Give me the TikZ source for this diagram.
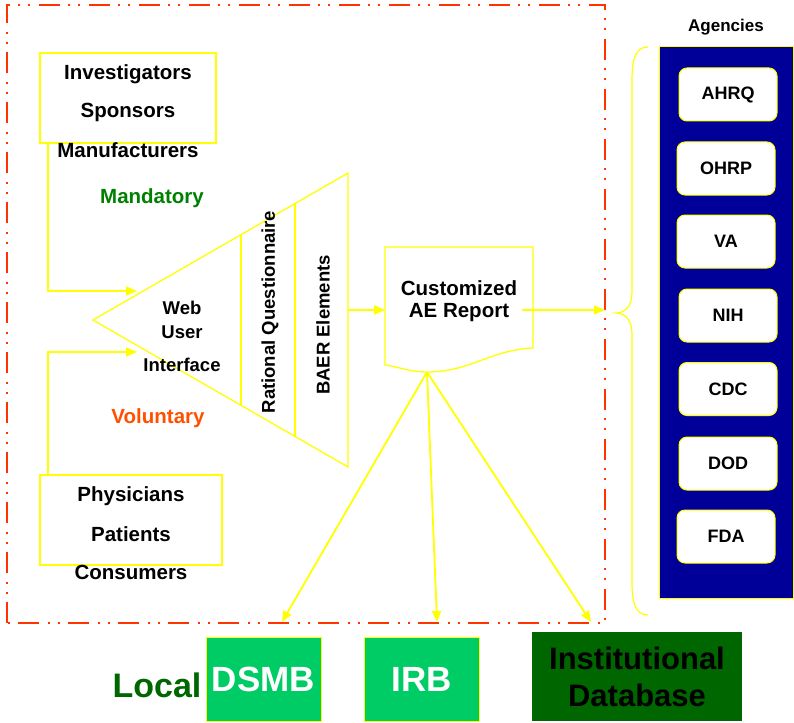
\documentclass[tikz,border=0pt]{standalone}
\usepackage{fontspec}
\setmainfont{Liberation Sans}
\usetikzlibrary{arrows.meta}
\definecolor{frame}{RGB}{255,51,0}
\definecolor{yel}{RGB}{255,255,0}
\definecolor{navy}{RGB}{0,0,153}
\definecolor{mand}{RGB}{0,128,0}
\definecolor{volu}{RGB}{255,80,0}
\definecolor{brightg}{RGB}{0,204,102}
\definecolor{darkg}{RGB}{0,102,0}
\tikzset{
  conn/.style={draw=yel, line width=1.8pt, -{Triangle[length=11pt,width=9pt]}},
  yline/.style={draw=yel, line width=1.3pt},
  lab/.style={font=\fontsize{20.5}{24}\selectfont\bfseries, inner sep=0pt},
  inlab/.style={font=\fontsize{18.5}{22}\selectfont\bfseries, inner sep=0pt},
  srcbox/.style={draw=yel, line width=1.2pt, inner sep=0pt},
  agency/.style={draw=yel, line width=1pt, fill=white, rounded corners=8pt,
    minimum width=98pt, minimum height=53pt, font=\fontsize{18}{22}\selectfont\bfseries, inner sep=0pt},
  localbox/.style={draw=yel, line width=1pt, inner sep=0pt, font=\fontsize{35}{40}\selectfont\bfseries},
}
\begin{document}
\begin{tikzpicture}[x=1pt,y=-1pt]
\useasboundingbox (0,0) rectangle (794,722);
% red frame
\draw[frame, line width=2.5pt, dash pattern=on 21pt off 8pt on 2pt off 8pt on 2pt off 9pt]
  (7,623) -- (7,5) -- (605,5) -- (605,623) -- cycle;
% source boxes
\node[srcbox, minimum width=176pt, minimum height=90pt] (topbox) at (128,98) {};
\node[lab] (inv) at (128,74) {Investigators};
\node[lab] (spo) at (128,112) {Sponsors};
\node[lab] (man) at (128,150) {Manufacturers};
\node[lab, text=mand] (mandl) at (152,198) {Mandatory};
\node[srcbox, minimum width=182pt, minimum height=90pt] (botbox) at (131,520) {};
\node[lab] (phy) at (131,496) {Physicians};
\node[lab] (pat) at (131,534) {Patients};
\node[lab] (con) at (131,572) {Consumers};
\node[lab, text=volu] (volul) at (158,418) {Voluntary};
% triangle
\coordinate (tip) at (93,320);
\coordinate (trt) at (348,173);
\coordinate (trb) at (348,467);
\draw[yline] (tip) -- (trt) -- (trb) -- cycle;
\draw[yline] (241,234.7) -- (241,405.3);
\draw[yline] (295,203.6) -- (295,436.4);
\node[inlab] (web) at (182,308) {Web};
\node[inlab] (user) at (182,332) {User};
\node[inlab] (intf) at (182,365) {Interface};
\node[inlab, rotate=90] (rq) at (270,312) {Rational Questionnaire};
\node[inlab, rotate=90] (baer) at (323,325) {BAER Elements};
\coordinate (inM) at (137,291);
\coordinate (inV) at (137,352);
\draw[conn] ([xshift=8.5pt]topbox.south west) |- (inM);
\draw[conn] ([xshift=8.5pt]botbox.north west) |- (inV);
% document
\coordinate (docbot) at (427,372);
\draw[yline] (385,247) -- (533,247) -- (533,348)
  .. controls (490,350) and (470,372) .. (docbot)
  .. controls (410,372) and (395,366) .. (385,365) -- cycle;
\node[lab] (cust) at (459,288) {Customized};
\node[lab] (aer) at (459,313) {AE Report};
\coordinate (trOut) at (348,310);
\coordinate (docIn) at (385,310);
\draw[conn] (trOut) -- (docIn);
\coordinate (docOut) at (522,310);
\coordinate (frameR) at (605,310);
\draw[conn] (docOut) -- (frameR);
% brace
\draw[yel, line width=1.2pt] (648,47) .. controls (636,47) and (632,58) .. (632,80)
  -- (632,292) .. controls (632,305) and (626,313) .. (616,313)
  .. controls (626,313) and (632,321) .. (632,334)
  -- (632,582) .. controls (632,604) and (636,615) .. (648,615);
% agencies
\node[font=\fontsize{17}{20}\selectfont\bfseries, inner sep=0pt] (agl) at (726,27) {Agencies};
\fill[navy] (659,47) rectangle (794,598);
\draw[yel, line width=1pt] (659,47) rectangle (793.5,598);
\node[agency] (ahrq) at (728,94.5) {AHRQ};
\node[agency] (ohrp) at (726,168.5) {OHRP};
\node[agency] (va) at (726,241.5) {VA};
\node[agency] (nih) at (728,315.5) {NIH};
\node[agency] (cdc) at (728,389) {CDC};
\node[agency] (dod) at (728,463.5) {DOD};
\node[agency] (fda) at (726,536.5) {FDA};
% local
\node[font=\fontsize{34}{40}\selectfont\bfseries, text=darkg, inner sep=0pt] (local) at (157,685) {Local};
\node[localbox, fill=brightg, text=white, minimum width=115pt, minimum height=84pt] (dsmb) at (263.5,679) {DSMB};
\node[localbox, fill=brightg, text=white, minimum width=115pt, minimum height=84pt] (irb) at (421.5,679) {IRB};
\node[draw=none, fill=darkg, minimum width=210pt, minimum height=89pt, inner sep=0pt,
  align=center, font=\fontsize{31}{37}\selectfont\bfseries] (inst) at (637,676.5) {Institutional\\Database};
\coordinate (toDsmb) at (282,622);
\coordinate (toIrb) at (437,622);
\coordinate (toInst) at (591,622);
\draw[conn] (docbot) -- (toDsmb);
\draw[conn] (docbot) -- (toIrb);
\draw[conn] (docbot) -- (toInst);
\end{tikzpicture}
\end{document}
